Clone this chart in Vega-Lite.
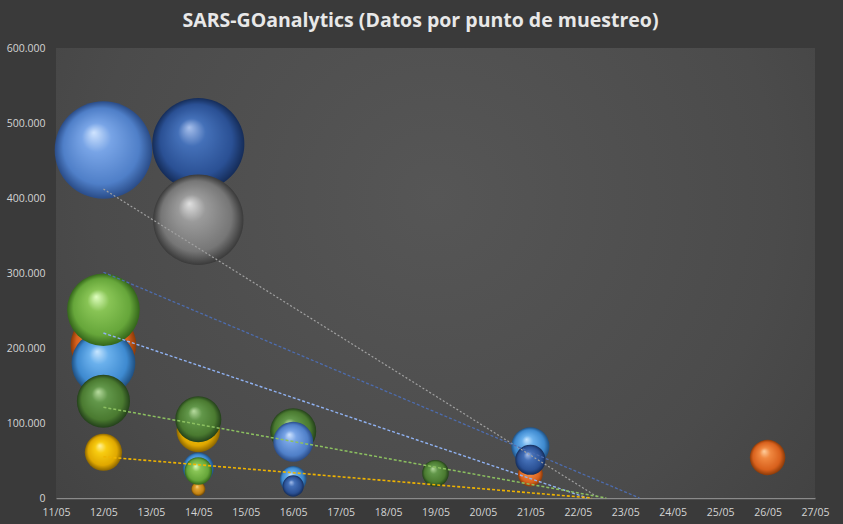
{
  "$schema": "https://vega.github.io/schema/vega-lite/v6.json",
  "width": 759,
  "height": 450,
  "autosize": {"type": "none"},
  "padding": {"left": 56, "top": 48, "right": 28, "bottom": 26},
  "background": "#3a3a3a",
  "title": {
    "text": "SARS-GOanalytics (Datos por punto de muestreo)",
    "font": "Open Sans",
    "fontSize": 19.5,
    "fontWeight": "bold",
    "color": "#e8e8e8",
    "anchor": "middle",
    "offset": 12,
    "dx": -15
  },
  "datasets": {
    "burbujas": [
      {"serie": "P5", "dia": 12, "valor": 204000, "tam": 1369},
      {"serie": "P5", "dia": 21, "valor": 32000, "tam": 196},
      {"serie": "P5", "dia": 26, "valor": 54000, "tam": 400},
      {"serie": "P8", "dia": 12, "valor": 61000, "tam": 441},
      {"serie": "P8", "dia": 14, "valor": 90000, "tam": 600},
      {"serie": "P9", "dia": 14, "valor": 12000, "tam": 64},
      {"serie": "P6", "dia": 12, "valor": 180000, "tam": 1296},
      {"serie": "P6", "dia": 14, "valor": 40000, "tam": 306},
      {"serie": "P6", "dia": 16, "valor": 25000, "tam": 225},
      {"serie": "P6", "dia": 21, "valor": 69000, "tam": 462},
      {"serie": "P2", "dia": 14, "valor": 472000, "tam": 2704},
      {"serie": "P2", "dia": 16, "valor": 16000, "tam": 144},
      {"serie": "P2", "dia": 21, "valor": 51000, "tam": 289},
      {"serie": "P3", "dia": 14, "valor": 371000, "tam": 2601},
      {"serie": "P7", "dia": 12, "valor": 129000, "tam": 900},
      {"serie": "P7", "dia": 14, "valor": 105000, "tam": 676},
      {"serie": "P7", "dia": 16, "valor": 89000, "tam": 676},
      {"serie": "P7", "dia": 19, "valor": 33000, "tam": 225},
      {"serie": "P1", "dia": 12, "valor": 464000, "tam": 3025},
      {"serie": "P1", "dia": 16, "valor": 75000, "tam": 506},
      {"serie": "P4", "dia": 12, "valor": 251000, "tam": 1681},
      {"serie": "P4", "dia": 14, "valor": 36000, "tam": 240}
    ],
    "tendencias": [
      {"tendencia": "T1", "dia": 12, "valor": 412000},
      {"tendencia": "T1", "dia": 22.45, "valor": 0},
      {"tendencia": "T2", "dia": 12, "valor": 301000},
      {"tendencia": "T2", "dia": 23.3, "valor": 0},
      {"tendencia": "T3", "dia": 12, "valor": 220000},
      {"tendencia": "T3", "dia": 22.2, "valor": 0},
      {"tendencia": "T4", "dia": 12, "valor": 121000},
      {"tendencia": "T4", "dia": 22.6, "valor": 0},
      {"tendencia": "T5", "dia": 12, "valor": 55000},
      {"tendencia": "T5", "dia": 22.3, "valor": 0}
    ]
  },
  "layer": [
    {
      "data": {"values": [{}]},
      "mark": {
        "type": "rect",
        "fill": {
          "gradient": "radial",
          "x1": 0.5, "y1": 0.4, "r1": 0,
          "x2": 0.5, "y2": 0.4, "r2": 0.75,
          "stops": [
            {"offset": 0, "color": "#565656"},
            {"offset": 0.6, "color": "#4b4b4b"},
            {"offset": 1, "color": "#3e3e3e"}
          ]
        }
      },
      "encoding": {
        "x": {"datum": 11, "type": "quantitative", "scale": {"domain": [11, 27], "nice": false, "zero": false}, "title": null,
          "axis": {
            "values": [11, 12, 13, 14, 15, 16, 17, 18, 19, 20, 21, 22, 23, 24, 25, 26, 27],
            "labelExpr": "datum.value + '/05'",
            "labelPadding": 9,
            "labelFlush": false,
            "labelOverlap": false
          }},
        "x2": {"datum": 27},
        "y": {"datum": 0, "type": "quantitative", "scale": {"domain": [0, 600000], "nice": false}, "title": null,
          "axis": {
            "values": [0, 100000, 200000, 300000, 400000, 500000, 600000],
            "labelExpr": "replace(format(datum.value, ','), ',', '.')",
            "labelPadding": 11,
            "domain": false
          }},
        "y2": {"datum": 600000}
      }
    },
    {
      "data": {"name": "burbujas"},
      "transform": [{"filter": "datum.serie == 'P5'"}],
      "mark": {"type": "circle", "opacity": 1, "fill": {"gradient": "radial", "x1": 0.4, "y1": 0.32, "r1": 0, "x2": 0.5, "y2": 0.5, "r2": 0.5,
        "stops": [{"offset": 0, "color": "#ffd0a0"}, {"offset": 0.3, "color": "#f08840"}, {"offset": 0.78, "color": "#d8601c"}, {"offset": 1, "color": "#8a3a08"}]}},
      "encoding": {
        "x": {"field": "dia", "type": "quantitative", "title": null},
        "y": {"field": "valor", "type": "quantitative", "title": null},
        "size": {"field": "tam", "type": "quantitative", "scale": {"type": "linear", "domain": [0, 3025], "range": [0, 9503], "zero": true}, "legend": null}
      }
    },
    {
      "data": {"name": "burbujas"},
      "transform": [{"filter": "datum.serie == 'P8'"}],
      "mark": {"type": "circle", "opacity": 1, "fill": {"gradient": "radial", "x1": 0.4, "y1": 0.32, "r1": 0, "x2": 0.5, "y2": 0.5, "r2": 0.5,
        "stops": [{"offset": 0, "color": "#fff3a0"}, {"offset": 0.3, "color": "#f8cc10"}, {"offset": 0.78, "color": "#e0a800"}, {"offset": 1, "color": "#8a6400"}]}},
      "encoding": {
        "x": {"field": "dia", "type": "quantitative", "title": null},
        "y": {"field": "valor", "type": "quantitative", "title": null},
        "size": {"field": "tam", "type": "quantitative", "scale": {"type": "linear", "domain": [0, 3025], "range": [0, 9503], "zero": true}, "legend": null}
      }
    },
    {
      "data": {"name": "burbujas"},
      "transform": [{"filter": "datum.serie == 'P9'"}],
      "mark": {"type": "circle", "opacity": 1, "fill": {"gradient": "radial", "x1": 0.4, "y1": 0.32, "r1": 0, "x2": 0.5, "y2": 0.5, "r2": 0.5,
        "stops": [{"offset": 0, "color": "#f8d890"}, {"offset": 0.3, "color": "#e0a030"}, {"offset": 0.78, "color": "#c08010"}, {"offset": 1, "color": "#6a4404"}]}},
      "encoding": {
        "x": {"field": "dia", "type": "quantitative", "title": null},
        "y": {"field": "valor", "type": "quantitative", "title": null},
        "size": {"field": "tam", "type": "quantitative", "scale": {"type": "linear", "domain": [0, 3025], "range": [0, 9503], "zero": true}, "legend": null}
      }
    },
    {
      "data": {"name": "burbujas"},
      "transform": [{"filter": "datum.serie == 'P6'"}],
      "mark": {"type": "circle", "opacity": 1, "fill": {"gradient": "radial", "x1": 0.4, "y1": 0.32, "r1": 0, "x2": 0.5, "y2": 0.5, "r2": 0.5,
        "stops": [{"offset": 0, "color": "#c8e6ff"}, {"offset": 0.3, "color": "#6ab0ec"}, {"offset": 0.78, "color": "#3e8ad0"}, {"offset": 1, "color": "#1f4f80"}]}},
      "encoding": {
        "x": {"field": "dia", "type": "quantitative", "title": null},
        "y": {"field": "valor", "type": "quantitative", "title": null},
        "size": {"field": "tam", "type": "quantitative", "scale": {"type": "linear", "domain": [0, 3025], "range": [0, 9503], "zero": true}, "legend": null}
      }
    },
    {
      "data": {"name": "burbujas"},
      "transform": [{"filter": "datum.serie == 'P2'"}],
      "mark": {"type": "circle", "opacity": 1, "fill": {"gradient": "radial", "x1": 0.4, "y1": 0.32, "r1": 0, "x2": 0.5, "y2": 0.5, "r2": 0.5,
        "stops": [{"offset": 0, "color": "#a8c0ec"}, {"offset": 0.3, "color": "#4470b8"}, {"offset": 0.78, "color": "#2a5094"}, {"offset": 1, "color": "#152c58"}]}},
      "encoding": {
        "x": {"field": "dia", "type": "quantitative", "title": null},
        "y": {"field": "valor", "type": "quantitative", "title": null},
        "size": {"field": "tam", "type": "quantitative", "scale": {"type": "linear", "domain": [0, 3025], "range": [0, 9503], "zero": true}, "legend": null}
      }
    },
    {
      "data": {"name": "burbujas"},
      "transform": [{"filter": "datum.serie == 'P3'"}],
      "mark": {"type": "circle", "opacity": 1, "fill": {"gradient": "radial", "x1": 0.4, "y1": 0.32, "r1": 0, "x2": 0.5, "y2": 0.5, "r2": 0.5,
        "stops": [{"offset": 0, "color": "#e0e0e0"}, {"offset": 0.3, "color": "#9a9a9a"}, {"offset": 0.78, "color": "#767676"}, {"offset": 1, "color": "#3a3a3a"}]}},
      "encoding": {
        "x": {"field": "dia", "type": "quantitative", "title": null},
        "y": {"field": "valor", "type": "quantitative", "title": null},
        "size": {"field": "tam", "type": "quantitative", "scale": {"type": "linear", "domain": [0, 3025], "range": [0, 9503], "zero": true}, "legend": null}
      }
    },
    {
      "data": {"name": "burbujas"},
      "transform": [{"filter": "datum.serie == 'P7'"}],
      "mark": {"type": "circle", "opacity": 1, "fill": {"gradient": "radial", "x1": 0.4, "y1": 0.32, "r1": 0, "x2": 0.5, "y2": 0.5, "r2": 0.5,
        "stops": [{"offset": 0, "color": "#b8dca0"}, {"offset": 0.3, "color": "#62974a"}, {"offset": 0.78, "color": "#4a7a30"}, {"offset": 1, "color": "#23401a"}]}},
      "encoding": {
        "x": {"field": "dia", "type": "quantitative", "title": null},
        "y": {"field": "valor", "type": "quantitative", "title": null},
        "size": {"field": "tam", "type": "quantitative", "scale": {"type": "linear", "domain": [0, 3025], "range": [0, 9503], "zero": true}, "legend": null}
      }
    },
    {
      "data": {"name": "burbujas"},
      "transform": [{"filter": "datum.serie == 'P1'"}],
      "mark": {"type": "circle", "opacity": 1, "fill": {"gradient": "radial", "x1": 0.4, "y1": 0.32, "r1": 0, "x2": 0.5, "y2": 0.5, "r2": 0.5,
        "stops": [{"offset": 0, "color": "#d0e4ff"}, {"offset": 0.3, "color": "#78a4e6"}, {"offset": 0.78, "color": "#4f7fc8"}, {"offset": 1, "color": "#2a4c88"}]}},
      "encoding": {
        "x": {"field": "dia", "type": "quantitative", "title": null},
        "y": {"field": "valor", "type": "quantitative", "title": null},
        "size": {"field": "tam", "type": "quantitative", "scale": {"type": "linear", "domain": [0, 3025], "range": [0, 9503], "zero": true}, "legend": null}
      }
    },
    {
      "data": {"name": "burbujas"},
      "transform": [{"filter": "datum.serie == 'P4'"}],
      "mark": {"type": "circle", "opacity": 1, "fill": {"gradient": "radial", "x1": 0.4, "y1": 0.32, "r1": 0, "x2": 0.5, "y2": 0.5, "r2": 0.5,
        "stops": [{"offset": 0, "color": "#e0ffc0"}, {"offset": 0.3, "color": "#88c455"}, {"offset": 0.78, "color": "#66a63a"}, {"offset": 1, "color": "#33651a"}]}},
      "encoding": {
        "x": {"field": "dia", "type": "quantitative", "title": null},
        "y": {"field": "valor", "type": "quantitative", "title": null},
        "size": {"field": "tam", "type": "quantitative", "scale": {"type": "linear", "domain": [0, 3025], "range": [0, 9503], "zero": true}, "legend": null}
      }
    },
    {
      "data": {"name": "tendencias"},
      "mark": {"type": "line", "strokeCap": "butt"},
      "encoding": {
        "x": {"field": "dia", "type": "quantitative", "title": null},
        "y": {"field": "valor", "type": "quantitative", "title": null},
        "detail": {"field": "tendencia", "type": "nominal"},
        "color": {"field": "tendencia", "type": "nominal", "legend": null,
          "scale": {"domain": ["T1", "T2", "T3", "T4", "T5"], "range": ["#a0a0a0", "#4d6cae", "#90b2f2", "#8cc060", "#f0b400"]}},
        "strokeWidth": {"field": "tendencia", "type": "ordinal", "legend": null,
          "scale": {"domain": ["T1", "T2", "T3", "T4", "T5"], "range": [1.2, 1.6, 2, 2, 3]}},
        "strokeDash": {"field": "tendencia", "type": "nominal", "legend": null,
          "scale": {"domain": ["T1", "T2", "T3", "T4", "T5"], "range": [[2, 2], [3, 2], [3, 2], [3, 2], [3, 2]]}}
      }
    }
  ],
  "config": {
    "view": {"stroke": null},
    "axis": {
      "ticks": false,
      "labelFont": "Open Sans",
      "labelFontSize": 10.5,
      "labelColor": "#d4d4d4",
      "gridColor": "#6a6a6a",
      "gridWidth": 1,
      "domainColor": "#8a8a8a",
      "domainWidth": 1.5
    }
  }
}
